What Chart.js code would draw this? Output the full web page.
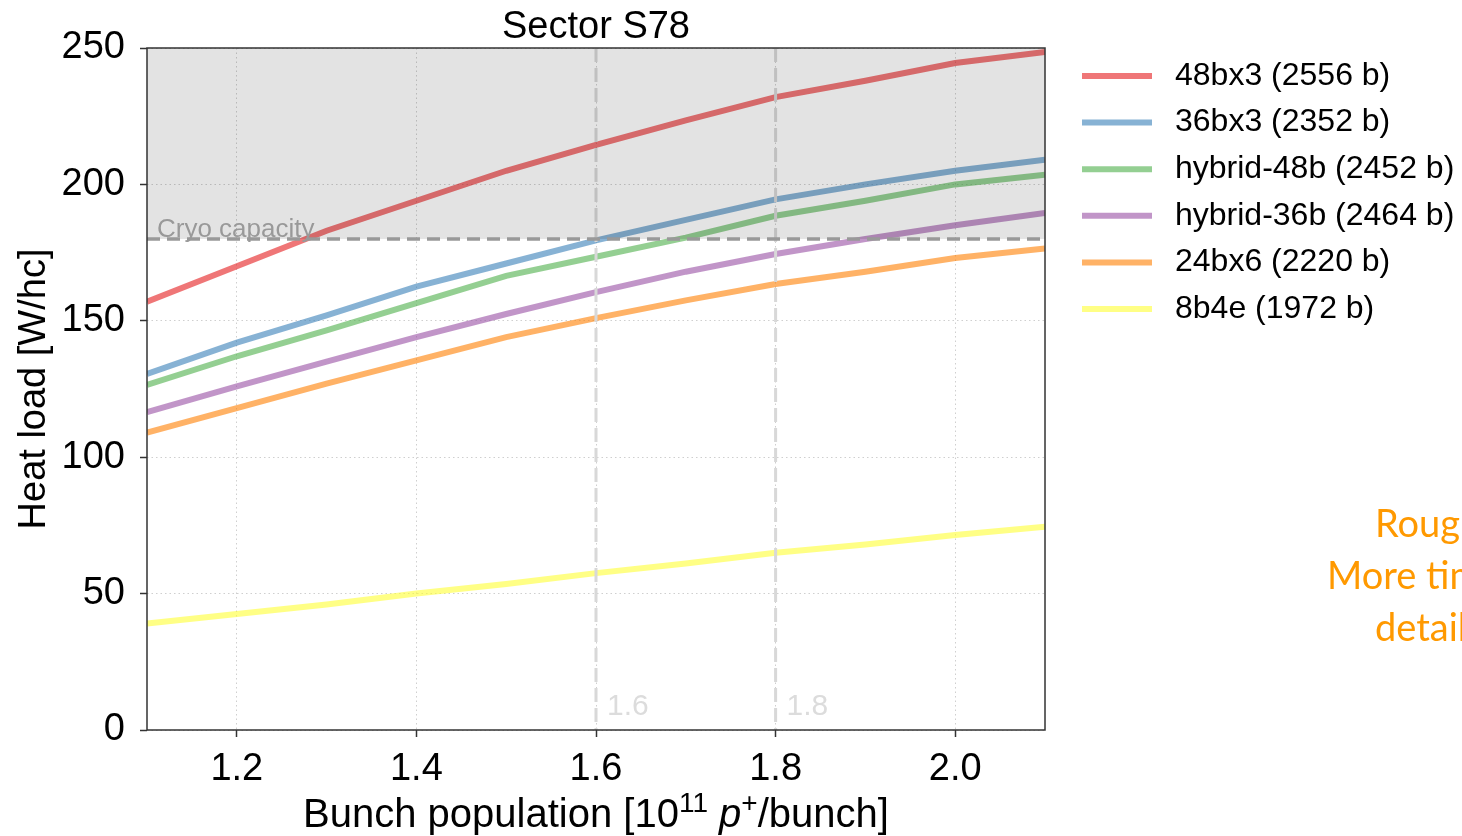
<!DOCTYPE html>
<html>
<head>
<meta charset="utf-8">
<script src="https://cdn.jsdelivr.net/npm/chart.js@4.4.1/dist/chart.umd.min.js"></script>
<style>
  html, body { margin: 0; padding: 0; background: #fff; overflow: hidden; }
  #wrap { position: relative; width: 1462px; height: 836px; overflow: hidden; }
  #chart { position: absolute; left: 0; top: 0; }
  .note { position: absolute; color: #ff9900; font-family: Lato, 'Open Sans', sans-serif; font-size: 38px; line-height: 1; white-space: nowrap; }
</style>
</head>
<body>
<div id="wrap">
  <canvas id="chart" width="1462" height="836"></canvas>
  <div class="note" style="left:1375px; top:503px;">Rough</div>
  <div class="note" style="left:1327px; top:555px;">More time</div>
  <div class="note" style="left:1375px; top:607px;">details</div>
</div>
<script>
// bunch population [1e11 p/bunch]
const bunchPop = [1.1, 1.2, 1.3, 1.4, 1.5, 1.6, 1.7, 1.8, 1.9, 2.0, 2.1];

// heat load [W/hc] per filling scheme
const fill48bx3   = [157, 170, 183, 194, 205, 214.5, 223.5, 232, 238, 244.5, 248.5];
const fill36bx3   = [130.5, 142, 152, 162.5, 171, 179.5, 187, 194.5, 200, 205, 209];
const hybrid48b   = [126.5, 137, 146.5, 156.5, 166.5, 173.5, 180.5, 188.5, 194, 200, 203.5];
const hybrid36b   = [116.5, 126, 135, 144, 152.5, 160.5, 168, 174.5, 180, 185, 189.5];
const fill24bx6   = [109, 118, 127, 135.5, 144, 151, 157.5, 163.5, 168, 173, 176.5];
const fill8b4e    = [39, 42.5, 46, 50, 53.5, 57.5, 61, 65, 68, 71.5, 74.5];

const seriesLabels = ['48bx3 (2556 b)', '36bx3 (2352 b)', 'hybrid-48b (2452 b)',
                      'hybrid-36b (2464 b)', '24bx6 (2220 b)', '8b4e (1972 b)'];
const seriesColors = ['rgba(228,26,28,0.6)', 'rgba(55,126,184,0.6)', 'rgba(77,175,74,0.6)',
                      'rgba(152,78,163,0.6)', 'rgba(255,127,0,0.6)', 'rgba(255,255,51,0.6)'];

const xTicks = [1.2, 1.4, 1.6, 1.8, 2.0];
const yTicks = [0, 50, 100, 150, 200, 250];
const markers = [1.6, 1.8];
const cryoLimit = 180;
const chartTitle = 'Sector S78';

const FONT = "'Liberation Sans', Arial, sans-serif";

const allSeries = [fill48bx3, fill36bx3, hybrid48b, hybrid36b, fill24bx6, fill8b4e];
const datasets = allSeries.map((vals, i) => ({
    label: seriesLabels[i],
    data: vals.map((v, j) => ({ x: bunchPop[j], y: v })),
    borderColor: seriesColors[i],
    backgroundColor: seriesColors[i],
    borderWidth: 6,
    pointRadius: 0,
    tension: 0,
    fill: false
}));

// grey "over capacity" band, marker lines, frame, legend, titles
const overlay = {
    id: 'overlay',
    afterDatasetsDraw(chart) {
        const { ctx, chartArea: a, scales: { x, y } } = chart;
        ctx.save();

        // vertical dashed markers
        ctx.strokeStyle = '#d8d8d8';
        ctx.lineWidth = 3;
        ctx.setLineDash([14, 6]);
        markers.forEach(m => {
            const px = x.getPixelForValue(m);
            ctx.beginPath();
            ctx.moveTo(px, a.top);
            ctx.lineTo(px, a.bottom);
            ctx.stroke();
        });
        ctx.setLineDash([]);
        ctx.fillStyle = '#dcdcdc';
        ctx.font = '30px ' + FONT;
        ctx.textBaseline = 'alphabetic';
        ctx.textAlign = 'left';
        markers.forEach(m => {
            ctx.fillText(m.toFixed(1), x.getPixelForValue(m) + 11, a.bottom - 15);
        });

        // band above cryo capacity
        const yc = y.getPixelForValue(cryoLimit);
        ctx.fillStyle = 'rgba(0,0,0,0.11)';
        ctx.fillRect(a.left, a.top, a.right - a.left, yc - a.top);

        // cryo capacity line
        ctx.strokeStyle = '#999';
        ctx.lineWidth = 3.5;
        ctx.setLineDash([13, 7]);
        ctx.beginPath();
        ctx.moveTo(a.left, yc);
        ctx.lineTo(a.right, yc);
        ctx.stroke();
        ctx.setLineDash([]);
        ctx.fillStyle = '#999';
        ctx.font = '26px ' + FONT;
        ctx.fillText('Cryo capacity', a.left + 10, yc - 2);

        // frame
        ctx.strokeStyle = '#333';
        ctx.lineWidth = 1.5;
        ctx.strokeRect(a.left, a.top, a.right - a.left, a.bottom - a.top);
        ctx.restore();
    },
    afterDraw(chart) {
        const { ctx, chartArea: a } = chart;
        ctx.save();

        // title centred over the plot area
        ctx.fillStyle = '#000';
        ctx.font = '38px ' + FONT;
        ctx.textAlign = 'center';
        ctx.textBaseline = 'alphabetic';
        ctx.fillText(chartTitle, (a.left + a.right) / 2, 38);

        // legend
        ctx.font = '32px ' + FONT;
        ctx.textBaseline = 'middle';
        ctx.textAlign = 'left';
        chart.data.datasets.forEach((ds, i) => {
            const ly = 76 + i * 46.6;
            ctx.strokeStyle = ds.borderColor;
            ctx.lineWidth = 6;
            ctx.beginPath();
            ctx.moveTo(1082, ly);
            ctx.lineTo(1152, ly);
            ctx.stroke();
            ctx.fillStyle = '#000';
            ctx.fillText(ds.label, 1175, ly);
        });

        // x axis title with superscripts
        const big = '40px ' + FONT, small = '28px ' + FONT, ital = 'italic 40px ' + FONT;
        const parts = [
            { t: 'Bunch population [10', f: big, dy: 0 },
            { t: '11', f: small, dy: -15 },
            { t: ' ', f: big, dy: 0 },
            { t: 'p', f: ital, dy: 0 },
            { t: '+', f: small, dy: -15 },
            { t: '/bunch]', f: big, dy: 0 }
        ];
        let total = 0;
        parts.forEach(p => { ctx.font = p.f; p.w = ctx.measureText(p.t).width; total += p.w; });
        let cx = (a.left + a.right) / 2 - total / 2;
        ctx.fillStyle = '#000';
        ctx.textBaseline = 'alphabetic';
        parts.forEach(p => {
            ctx.font = p.f;
            ctx.fillText(p.t, cx, 827 + p.dy);
            cx += p.w;
        });
        ctx.restore();
    }
};

const gridOpts = {
    color: '#cfcfcf',
    lineWidth: 1,
    drawTicks: true,
    tickLength: 7,
    tickColor: '#333',
    tickWidth: 1.5,
    tickBorderDash: []
};

new Chart(document.getElementById('chart'), {
    type: 'line',
    data: { datasets },
    plugins: [overlay],
    options: {
        responsive: false,
        animation: false,
        devicePixelRatio: 1,
        layout: { padding: { left: 0, right: 417, top: 48, bottom: 0 } },
        plugins: {
            legend: { display: false },
            tooltip: { enabled: false },
            title: { display: false }
        },
        scales: {
            x: {
                type: 'linear',
                min: 1.1,
                max: 2.1,
                afterBuildTicks: axis => { axis.ticks = xTicks.map(v => ({ value: v })); },
                afterFit: axis => { axis.height = 106; },
                border: { display: false, dash: [1.5, 3] },
                grid: gridOpts,
                ticks: {
                    color: '#000',
                    font: { family: FONT, size: 38 },
                    padding: 10,
                    maxRotation: 0,
                    callback: v => v.toFixed(1)
                },
                title: { display: false }
            },
            y: {
                min: 0,
                max: 250,
                afterBuildTicks: axis => { axis.ticks = yTicks.map(v => ({ value: v })); },
                afterFit: axis => { axis.width = 147; },
                border: { display: false, dash: [1.5, 3] },
                grid: gridOpts,
                ticks: {
                    color: '#000',
                    font: { family: FONT, size: 38 },
                    padding: 15
                },
                title: {
                    display: true,
                    text: 'Heat load [W/hc]',
                    color: '#000',
                    font: { family: FONT, size: 38, lineHeight: 1.2 },
                    padding: { top: 12, bottom: 0 }
                }
            }
        }
    }
});
</script>
</body>
</html>
